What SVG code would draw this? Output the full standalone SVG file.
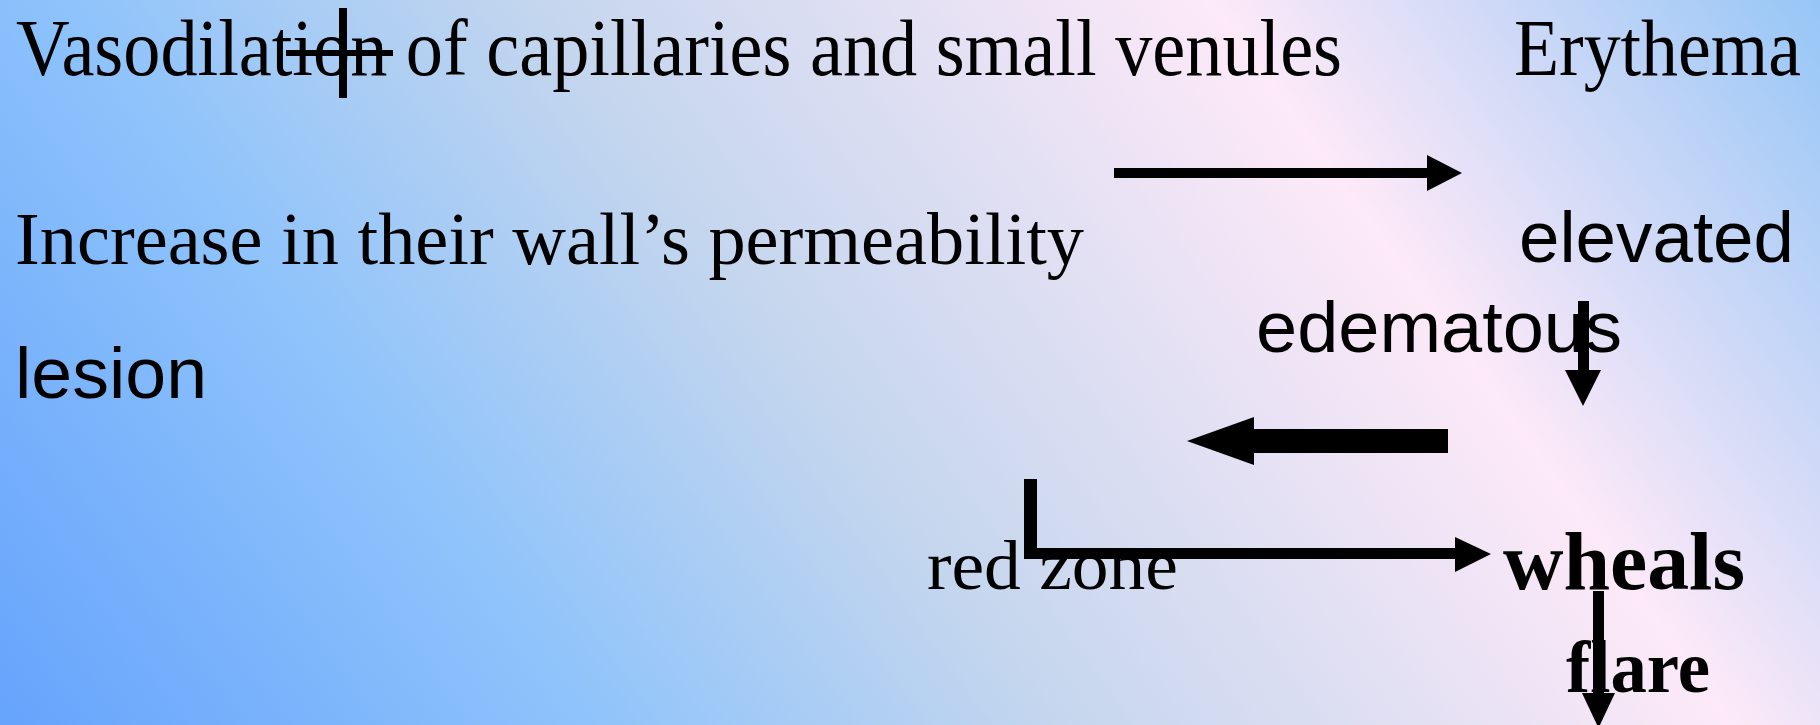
<svg xmlns="http://www.w3.org/2000/svg" width="1820" height="725" viewBox="0 0 1820 725">
  <defs>
    <linearGradient id="bg" gradientUnits="userSpaceOnUse" x1="0" y1="725" x2="1542" y2="-385">
      <stop offset="0" stop-color="#66a3fc"/>
      <stop offset="0.25" stop-color="#8ec3fb"/>
      <stop offset="0.45" stop-color="#c4d6ee"/>
      <stop offset="0.74" stop-color="#fde9f8"/>
      <stop offset="1" stop-color="#96c6f6"/>
    </linearGradient>
    <style>
      .serif { font-family: "Liberation Serif", "Times New Roman", serif; fill: #000; }
      .sans { font-family: "Liberation Sans", Arial, sans-serif; fill: #000; }
      .bold { font-weight: bold; }
      .ink { fill: #000; stroke: none; }
    </style>
  </defs>

  <rect width="1820" height="725" fill="url(#bg)"/>

  <!-- text nodes -->
  <g id="vasodilation">
    <text class="serif" x="16" y="75" font-size="80" textLength="1326" lengthAdjust="spacingAndGlyphs">Vasodilation of capillaries and small venules</text>
    <rect class="ink" x="286" y="50" width="107" height="6"/>
    <rect class="ink" x="339" y="8" width="8" height="90"/>
  </g>
  <g id="erythema">
    <text class="serif" x="1514" y="75" font-size="80" textLength="287" lengthAdjust="spacingAndGlyphs">Erythema</text>
  </g>
  <g id="permeability">
    <text class="serif" x="15" y="264" font-size="75" textLength="1069" lengthAdjust="spacingAndGlyphs">Increase in their wall’s permeability</text>
  </g>
  <g id="elevated">
    <text class="sans" x="1519" y="262" font-size="72" textLength="275" lengthAdjust="spacingAndGlyphs">elevated</text>
  </g>
  <g id="edematous">
    <text class="sans" x="1256" y="352" font-size="72" textLength="366" lengthAdjust="spacingAndGlyphs">edematous</text>
  </g>
  <g id="lesion">
    <text class="sans" x="15" y="398" font-size="73" textLength="192" lengthAdjust="spacingAndGlyphs">lesion</text>
  </g>
  <g id="red-zone">
    <text class="serif" x="927" y="589" font-size="69" textLength="251" lengthAdjust="spacingAndGlyphs">red zone</text>
  </g>
  <g id="wheals">
    <text class="serif bold" x="1503" y="589" font-size="82" textLength="242" lengthAdjust="spacingAndGlyphs">wheals</text>
  </g>
  <g id="flare">
    <text class="serif bold" x="1566" y="692" font-size="74" textLength="144" lengthAdjust="spacingAndGlyphs">flare</text>
  </g>

  <!-- connectors -->
  <g id="connectors">
    <!-- right arrow towards Erythema column -->
    <rect class="ink" x="1114" y="168" width="314" height="10"/>
    <polygon class="ink" points="1427,155 1462,173 1427,191"/>
    <!-- down arrow from elevated -->
    <rect class="ink" x="1578" y="301" width="11" height="70"/>
    <polygon class="ink" points="1565,370 1601,370 1583,406"/>
    <!-- thick left arrow -->
    <rect class="ink" x="1253" y="429" width="195" height="24"/>
    <polygon class="ink" points="1254,417 1254,465 1187,441"/>
    <!-- elbow arrow from red zone to wheals -->
    <rect class="ink" x="1024" y="479" width="13" height="80"/>
    <rect class="ink" x="1024" y="548" width="432" height="11"/>
    <polygon class="ink" points="1455,537 1491,554 1455,572"/>
    <!-- down arrow from wheals -->
    <rect class="ink" x="1593" y="591" width="11" height="103"/>
    <polygon class="ink" points="1582,693 1615,693 1598.5,728"/>
  </g>
</svg>
